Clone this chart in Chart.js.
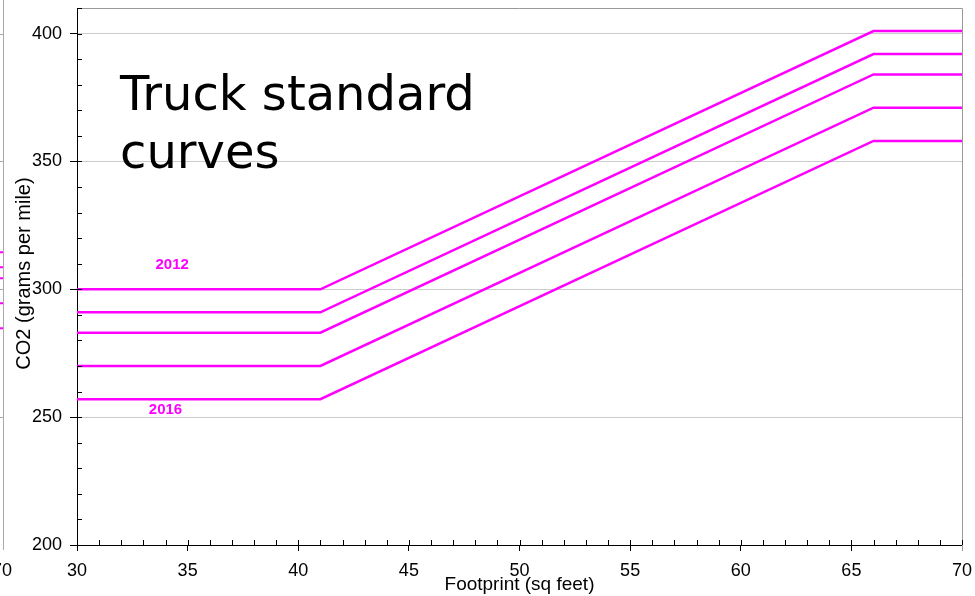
<!DOCTYPE html>
<html lang="en">
<head>
  <meta charset="UTF-8">
  <title>Truck standard curves</title>
  <script src="https://cdn.jsdelivr.net/npm/chart.js"></script>
  <style>
    html, body { margin: 0; padding: 0; background: #fff; }
    #wrap { width: 975px; height: 596px; position: relative; }
  </style>
</head>
<body>
  <div id="wrap"><canvas id="truckChart"></canvas></div>

  <script>
    // Footprint breakpoints (sq feet): flat, ramp, flat
    const footprint = [30, 41, 66, 70];
    const modelYears = ['2012', '2013', '2014', '2015', '2016'];
    // CO2 target (g/mile) on the small-footprint plateau and the large-footprint plateau
    const co2Small = [300, 291, 283, 270, 257];
    const co2Large = [401, 392, 384, 371, 358];
    const xTicks = [30, 35, 40, 45, 50, 55, 60, 65, 70];
    const yTicks = [200, 250, 300, 350, 400];
    // edge of the neighbouring panel that is cut off on the left
    const neighbourLines = [314.5, 308.6, 304.3, 294.5, 284.8];

    const MAGENTA = '#ff00ff';
    const FONT = '"Liberation Sans", Arial, sans-serif';

    const datasets = modelYears.map((yr, i) => ({
      label: yr,
      data: [
        { x: footprint[0], y: co2Small[i] },
        { x: footprint[1], y: co2Small[i] },
        { x: footprint[2], y: co2Large[i] },
        { x: footprint[3], y: co2Large[i] }
      ],
      borderColor: MAGENTA,
      borderWidth: 2.5,
      pointRadius: 0,
      tension: 0,
      fill: false
    }));

    // Extra drawing: frame, minor ticks, titles, year labels
    const decorPlugin = {
      id: 'decor',
      afterDraw(chart) {
        const { ctx, chartArea: a, scales: { x, y } } = chart;
        ctx.save();

        // grey frame top and right
        ctx.strokeStyle = '#999';
        ctx.lineWidth = 1;
        ctx.beginPath();
        ctx.moveTo(a.left, a.top + 0.5);
        ctx.lineTo(a.right + 0.5, a.top + 0.5);
        ctx.lineTo(a.right + 0.5, a.bottom + 6);
        ctx.stroke();

        // minor ticks inside plot
        ctx.strokeStyle = '#000';
        ctx.beginPath();
        for (let v = 30; v <= 70; v += 1) {
          const px = Math.round(x.getPixelForValue(v)) + 0.5;
          ctx.moveTo(px, a.bottom);
          ctx.lineTo(px, a.bottom - 5);
        }
        for (let v = 200; v <= 410; v += 10) {
          const py = Math.round(y.getPixelForValue(v)) + 0.5;
          ctx.moveTo(a.left, py);
          ctx.lineTo(a.left + 5, py);
        }
        ctx.stroke();

        // neighbouring panel remnant on the far left
        ctx.strokeStyle = '#aaa';
        ctx.beginPath();
        ctx.moveTo(3.5, 0);
        ctx.lineTo(3.5, a.bottom + 5);
        yTicks.slice(1).forEach(v => {
          const py = Math.round(y.getPixelForValue(v)) + 0.5;
          ctx.moveTo(0, py);
          ctx.lineTo(3, py);
        });
        ctx.stroke();
        ctx.strokeStyle = MAGENTA;
        ctx.lineWidth = 2;
        ctx.beginPath();
        neighbourLines.forEach(v => {
          const py = y.getPixelForValue(v);
          ctx.moveTo(0, py);
          ctx.lineTo(3, py);
        });
        ctx.stroke();
        ctx.fillStyle = '#000';
        ctx.font = '18px ' + FONT;
        ctx.textAlign = 'right';
        ctx.textBaseline = 'middle';
        ctx.fillText('70', 12, 571);

        // axis titles
        ctx.textAlign = 'center';
        ctx.font = '19px ' + FONT;
        ctx.fillText('Footprint (sq feet)', (a.left + a.right) / 2, 585);
        ctx.save();
        ctx.translate(24, (a.top + a.bottom) / 2 - 3);
        ctx.rotate(-Math.PI / 2);
        ctx.font = '20px ' + FONT;
        ctx.fillText('CO2 (grams per mile)', 0, 0);
        ctx.restore();

        // big title
        ctx.textAlign = 'left';
        ctx.textBaseline = 'alphabetic';
        ctx.font = '48px "DejaVu Sans", Verdana, sans-serif';
        ctx.fillText('Truck standard', 120, 110);
        ctx.fillText('curves', 120, 168);

        // year labels
        ctx.fillStyle = MAGENTA;
        ctx.font = 'bold 15px ' + FONT;
        ctx.textAlign = 'center';
        ctx.textBaseline = 'middle';
        ctx.fillText(modelYears[0], x.getPixelForValue(34.3), y.getPixelForValue(309.5));
        ctx.fillText(modelYears[4], x.getPixelForValue(34.0), y.getPixelForValue(252.7));

        ctx.restore();
      }
    };

    const ctx = document.getElementById('truckChart').getContext('2d');
    new Chart(ctx, {
      type: 'line',
      data: { datasets },
      options: {
        responsive: true,
        maintainAspectRatio: false,
        animation: false,
        layout: { padding: { left: 0, top: 8, right: 13, bottom: 0 } },
        plugins: {
          legend: { display: false },
          tooltip: { enabled: false }
        },
        scales: {
          x: {
            type: 'linear',
            min: 30,
            max: 70,
            afterBuildTicks: s => { s.ticks = xTicks.map(v => ({ value: v })); },
            afterFit: s => { s.height = 51; s.paddingLeft = 0; s.paddingRight = 0; },
            ticks: {
              color: '#000',
              padding: 9,
              maxRotation: 0,
              font: { family: FONT, size: 18 }
            },
            grid: {
              drawOnChartArea: false,
              drawTicks: true,
              tickLength: 6,
              tickColor: '#000'
            },
            border: { color: '#000', width: 1 }
          },
          y: {
            type: 'linear',
            min: 200,
            max: 410,
            afterBuildTicks: s => { s.ticks = yTicks.map(v => ({ value: v })); },
            afterFit: s => { s.width = 77; s.paddingTop = 0; s.paddingBottom = 0; },
            ticks: {
              color: '#000',
              padding: 8,
              font: { family: FONT, size: 18 }
            },
            grid: {
              color: '#cccccc',
              lineWidth: 1,
              drawTicks: true,
              tickLength: 7,
              tickColor: '#000'
            },
            border: { color: '#000', width: 1 }
          }
        }
      },
      plugins: [decorPlugin]
    });
  </script>
</body>
</html>
